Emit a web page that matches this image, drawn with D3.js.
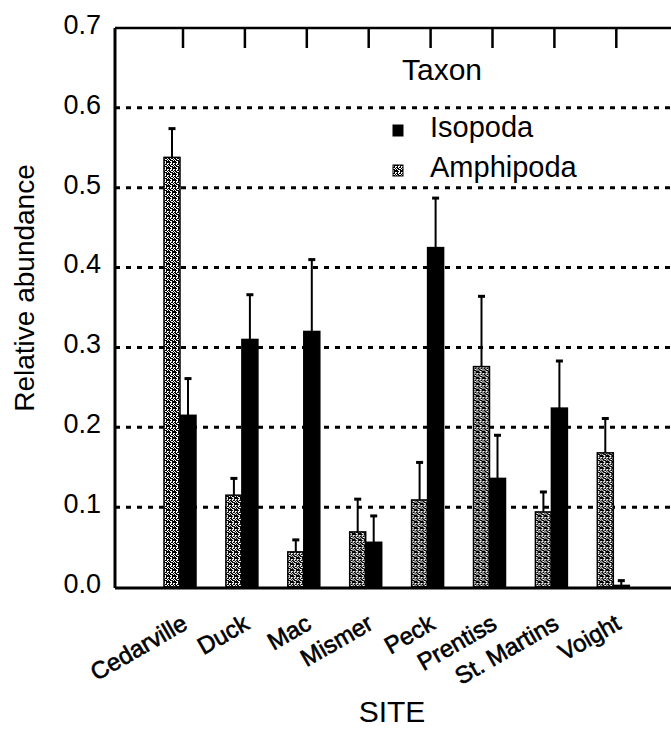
<!DOCTYPE html>
<html>
<head>
<meta charset="utf-8">
<script src="https://cdn.jsdelivr.net/npm/d3@7/dist/d3.min.js"></script>
<style>
  html, body { margin: 0; padding: 0; background: #fff; }
  svg { display: block; font-family: "Liberation Sans", Arial, sans-serif; }
</style>
</head>
<body>
<svg id="chart" width="671" height="732"></svg>
<script>
// Relative abundance of two crustacean taxa at eight sites (mean + SE)
const sites = ["Cedarville", "Duck", "Mac", "Mismer", "Peck", "Prentiss", "St. Martins", "Voight"];
const taxa = ["Amphipoda", "Isopoda"];
const legendOrder = ["Isopoda", "Amphipoda"];
const amphipoda = [0.538, 0.115, 0.044, 0.069, 0.109, 0.276, 0.094, 0.168];
const amphipodaSE = [0.036, 0.021, 0.015, 0.041, 0.047, 0.088, 0.025, 0.043];
const isopoda = [0.215, 0.310, 0.320, 0.056, 0.425, 0.136, 0.224, 0.002];
const isopodaSE = [0.046, 0.056, 0.090, 0.033, 0.062, 0.054, 0.059, 0.006];
const yTicks = [0, 0.1, 0.2, 0.3, 0.4, 0.5, 0.6, 0.7];
const gridTicks = [0.1, 0.2, 0.3, 0.4, 0.5, 0.6];

const svg = d3.select("#chart");
const mLeft = 115, mRight = 700, mTop = 28, mBottom = 587;

const y = d3.scaleLinear().domain([0, 0.7]).range([mBottom, mTop]);
const x = d3.scalePoint().domain(sites).range([180, 613.3]);
const xi = d3.scaleBand().domain(taxa).range([-16, 16]);

// stippled fill used for the amphipod bars
const defs = svg.append("defs");
const pat = defs.append("pattern")
  .attr("id", "stipple").attr("patternUnits", "userSpaceOnUse")
  .attr("width", 6).attr("height", 6);
pat.append("rect").attr("width", 6).attr("height", 6).attr("fill", "#fff");
const dots = [[0,0,3,1],[4,0,2,1],[1,1,1,1],[4,1,1,1],[0,2,2,1],[3,2,2,1],[5,3,1,1],[1,3,2,1],
              [0,4,1,1],[2,4,3,1],[0,5,2,1],[4,5,2,1]];
pat.selectAll("rect.d").data(dots).join("rect").attr("class", "d")
  .attr("x", d => d[0]).attr("y", d => d[1]).attr("width", d => d[2]).attr("height", d => d[3])
  .attr("fill", "#000");

const fills = { Amphipoda: "url(#stipple)", Isopoda: "#000" };

// dotted gridlines
svg.append("g").selectAll("line").data(gridTicks).join("line")
  .attr("x1", mLeft).attr("x2", mRight)
  .attr("y1", d => y(d)).attr("y2", d => y(d))
  .attr("stroke", "#000").attr("stroke-width", 3)
  .attr("stroke-dasharray", "5,6");

// bars and upper error bars
const rows = sites.map((s, i) => ({
  site: s,
  values: [
    { taxon: "Amphipoda", v: amphipoda[i], se: amphipodaSE[i] },
    { taxon: "Isopoda", v: isopoda[i], se: isopodaSE[i] }
  ]
}));

const groups = svg.append("g").selectAll("g").data(rows).join("g")
  .attr("transform", d => `translate(${x(d.site)},0)`);

groups.selectAll("line.err").data(d => d.values).join("line").attr("class", "err")
  .attr("x1", d => xi(d.taxon) + xi.bandwidth() / 2)
  .attr("x2", d => xi(d.taxon) + xi.bandwidth() / 2)
  .attr("y1", d => y(d.v)).attr("y2", d => y(d.v + d.se))
  .attr("stroke", "#000").attr("stroke-width", 2);
groups.selectAll("line.cap").data(d => d.values).join("line").attr("class", "cap")
  .attr("x1", d => xi(d.taxon) + xi.bandwidth() / 2 - 3.5)
  .attr("x2", d => xi(d.taxon) + xi.bandwidth() / 2 + 3.5)
  .attr("y1", d => y(d.v + d.se)).attr("y2", d => y(d.v + d.se))
  .attr("stroke", "#000").attr("stroke-width", 3);

groups.selectAll("rect").data(d => d.values).join("rect")
  .attr("x", d => xi(d.taxon))
  .attr("width", xi.bandwidth())
  .attr("y", d => y(d.v))
  .attr("height", d => y(0) - y(d.v))
  .attr("fill", d => fills[d.taxon])
  .attr("stroke", "#000").attr("stroke-width", 1.5);

// frame: left axis, top border, baseline
svg.append("line").attr("x1", mLeft).attr("x2", mLeft).attr("y1", mTop).attr("y2", mBottom + 1)
  .attr("stroke", "#000").attr("stroke-width", 3);
svg.append("line").attr("x1", mLeft).attr("x2", mRight).attr("y1", mTop).attr("y2", mTop)
  .attr("stroke", "#000").attr("stroke-width", 2.5);
svg.append("line").attr("x1", mLeft).attr("x2", mRight).attr("y1", mBottom + 1).attr("y2", mBottom + 1)
  .attr("stroke", "#000").attr("stroke-width", 3);

// top tick marks at each site
svg.append("g").selectAll("line").data(sites).join("line")
  .attr("x1", d => x(d) + 3).attr("x2", d => x(d) + 3)
  .attr("y1", mTop).attr("y2", mTop + 20)
  .attr("stroke", "#000").attr("stroke-width", 2.5);

// y axis labels
const yAxis = d3.axisLeft(y).tickValues(yTicks).tickFormat(d3.format(".1f")).tickSize(0).tickPadding(14);
const gy = svg.append("g").attr("transform", `translate(${mLeft},0)`).call(yAxis);
gy.select(".domain").remove();
gy.selectAll("text").attr("font-size", 27).attr("font-family", "Liberation Sans, Arial, sans-serif")
  .attr("fill", "#000").attr("dy", "0.2em");

svg.append("text")
  .attr("transform", `translate(34,288) rotate(-90)`)
  .attr("text-anchor", "middle").attr("font-size", 28)
  .text("Relative abundance");

// rotated site labels
svg.append("g").selectAll("text").data(sites).join("text")
  .attr("transform", d => `translate(${x(d) + 9},628) rotate(-30)`)
  .attr("text-anchor", "end").attr("font-size", 24)
  .attr("stroke", "#000").attr("stroke-width", 0.6)
  .text(d => d);

svg.append("text").attr("x", 392).attr("y", 722)
  .attr("text-anchor", "middle").attr("font-size", 30).text("SITE");

// legend
svg.append("text").attr("x", 402).attr("y", 80).attr("font-size", 30).text("Taxon");
const leg = svg.append("g").selectAll("g").data(legendOrder).join("g")
  .attr("transform", (d, i) => `translate(0,${137 + i * 40})`);
leg.append("rect").attr("x", 393).attr("y", -12).attr("width", 10).attr("height", 11)
  .attr("fill", d => fills[d]).attr("stroke", "#000").attr("stroke-width", 1);
leg.append("text").attr("x", 430).attr("y", 0).attr("font-size", 29).text(d => d);
</script>
</body>
</html>
